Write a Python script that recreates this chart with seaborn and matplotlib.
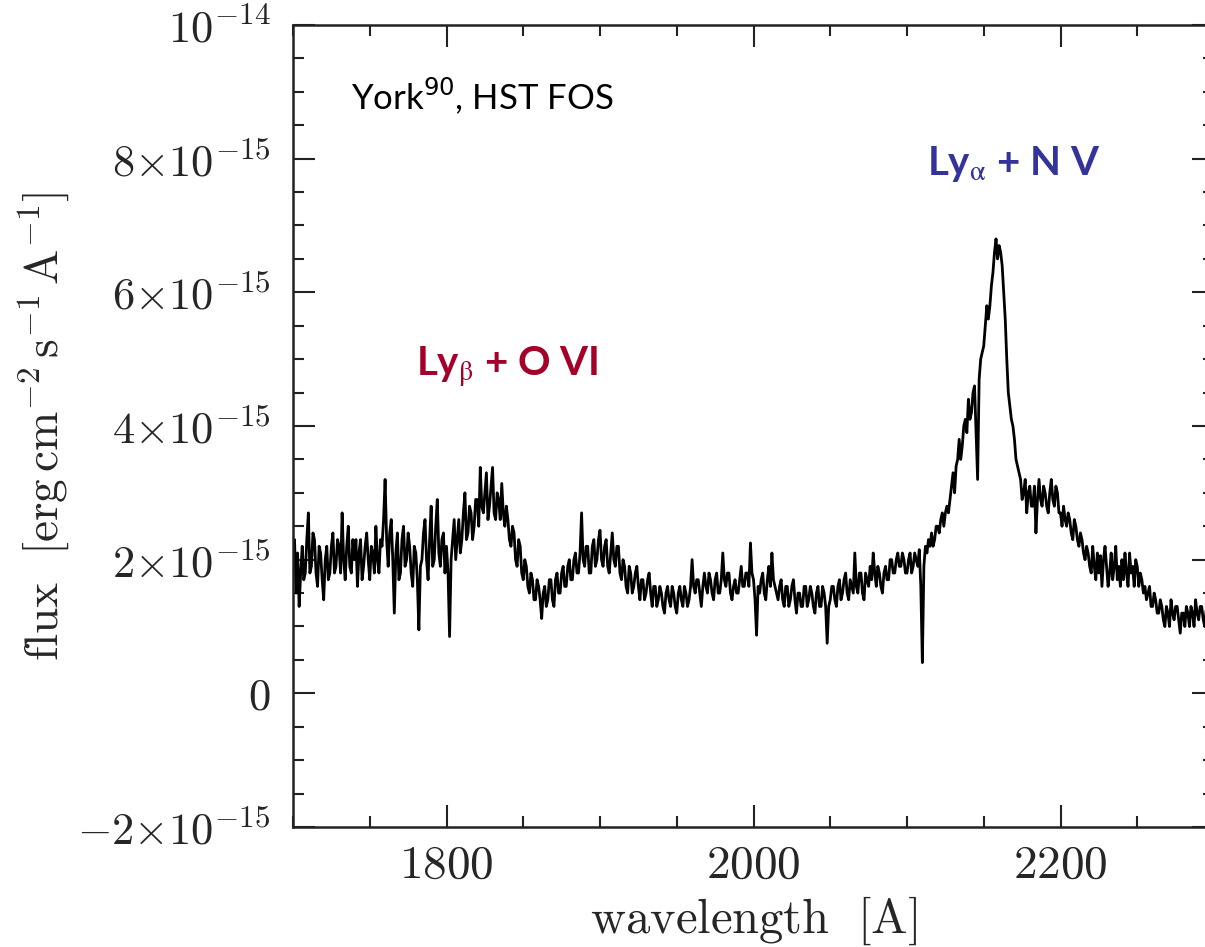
import numpy as np
import pandas as pd
import matplotlib
matplotlib.use('Agg')
import matplotlib.pyplot as plt
from matplotlib.ticker import MultipleLocator, FixedLocator, FixedFormatter
import seaborn as sns

# flux in units of 1e-15 erg cm^-2 s^-1 A^-1, one value per 1 A, rows of 10 A
flux_1700 = [1.9, 2.3, 1.5, 2.1, 1.3, 1.8, 2.2, 1.7, 1.8, 2.3,
             2.7, 1.8, 1.9, 2.4, 2.3, 1.8, 1.6, 2.2, 2.1, 1.7,
             1.4, 2.0, 2.2, 1.7, 1.8, 2.2, 2.4, 1.8, 1.9, 2.3,
             2.2, 1.8, 2.7, 2.0, 1.7, 2.2, 2.5, 1.9, 1.8, 2.3,
             2.0, 2.3, 1.6, 2.1, 2.3, 1.7, 1.9, 2.2, 2.4, 2.0,
             1.7, 2.2, 2.1, 1.8, 2.5, 2.0, 1.8, 2.3, 2.2, 2.6,
             3.2, 2.3, 1.9, 2.4, 2.6, 2.0, 1.2, 2.1, 2.4, 1.7,
             1.8, 2.3, 2.5, 1.9, 2.0, 2.4, 2.2, 1.8, 1.6, 2.2,
             2.1, 1.7, 0.95, 1.9, 2.0, 2.4, 2.6, 2.0, 1.7, 2.3,
             2.8, 1.9, 2.0, 2.5, 2.9, 2.1, 1.9, 2.3, 2.4, 1.8]
flux_1800 = [2.2, 1.8, 0.85, 2.0, 2.3, 2.6, 2.0, 2.3, 2.6, 2.1,
             2.3, 2.7, 3.0, 2.3, 2.4, 2.8, 2.7, 2.3, 2.5, 2.9,
             2.9, 2.5, 3.38, 2.8, 2.7, 3.0, 3.3, 2.6, 2.8, 3.1,
             3.38, 2.7, 2.6, 3.0, 2.9, 2.6, 3.14, 2.7, 2.5, 2.8,
             2.6, 2.3, 2.2, 2.5, 2.4, 2.0, 1.9, 2.3, 2.2, 1.8,
             1.7, 2.0, 1.9, 1.6, 1.5, 1.8, 1.7, 1.4, 1.4, 1.7,
             1.6, 1.4, 1.12, 1.5, 1.6, 1.3, 1.4, 1.7, 1.7, 1.4,
             1.3, 1.7, 1.8, 1.5, 1.5, 1.8, 1.9, 1.6, 1.6, 1.9,
             2.0, 1.7, 1.7, 2.0, 2.1, 1.8, 1.8, 2.1, 2.7, 2.0,
             1.9, 2.2, 2.2, 1.8, 1.8, 2.2, 2.3, 1.9, 2.0, 2.3]
flux_1900 = [2.44, 2.0, 1.9, 2.2, 2.3, 1.9, 1.8, 2.1, 2.4, 2.0,
             1.9, 2.2, 2.2, 1.8, 1.7, 2.0, 1.9, 1.6, 1.5, 1.9,
             1.8, 1.5, 1.6, 1.8, 1.9, 1.6, 1.4, 1.7, 1.7, 1.4,
             1.5, 1.7, 1.8, 1.5, 1.3, 1.6, 1.6, 1.3, 1.4, 1.6,
             1.5, 1.3, 1.2, 1.5, 1.6, 1.4, 1.3, 1.6, 1.5, 1.3,
             1.2, 1.5, 1.6, 1.4, 1.3, 1.6, 1.5, 1.3, 1.4, 1.6,
             2.0, 1.6, 1.5, 1.7, 1.7, 1.5, 1.3, 1.6, 1.8, 1.6,
             1.5, 1.8, 1.7, 1.5, 1.4, 1.7, 1.8, 1.5, 1.5, 1.7,
             2.1, 1.7, 1.6, 1.8, 1.8, 1.5, 1.4, 1.6, 1.7, 1.5,
             1.5, 1.7, 1.9, 1.6, 1.6, 1.8, 1.8, 1.6, 2.25, 1.8]
flux_2000 = [1.7, 1.4, 0.87, 1.6, 1.5, 1.7, 1.8, 1.5, 1.4, 1.7,
             1.9, 1.6, 2.1, 1.7, 1.6, 1.5, 1.4, 1.6, 1.7, 1.4,
             1.3, 1.6, 1.6, 1.3, 1.4, 1.6, 1.7, 1.4, 1.2, 1.5,
             1.5, 1.3, 1.3, 1.6, 1.6, 1.3, 1.4, 1.6, 1.5, 1.3,
             1.2, 1.5, 1.6, 1.3, 1.3, 1.6, 1.5, 1.3, 0.75, 1.3,
             1.4, 1.6, 1.6, 1.4, 1.3, 1.6, 1.7, 1.4, 1.5, 1.7,
             1.8, 1.5, 1.4, 1.7, 1.6, 1.5, 2.1, 1.6, 1.5, 1.8,
             1.8, 1.5, 1.4, 1.8, 1.7, 1.6, 1.9, 1.7, 2.1, 1.8,
             1.6, 1.9, 1.8, 1.6, 1.5, 1.8, 1.9, 1.7, 1.7, 2.0,
             2.0, 1.8, 1.8, 2.0, 2.1, 1.9, 1.9, 2.1, 2.0, 1.8]
flux_2100 = [1.8, 2.0, 2.1, 1.8, 1.9, 2.1, 2.0, 1.9, 2.15, 1.6,
             0.46, 1.9, 2.2, 2.1, 2.3, 2.2, 2.4, 2.2, 2.3, 2.5,
             2.5, 2.4, 2.6, 2.7, 2.5, 2.7, 2.8, 2.7, 2.9, 3.1,
             3.3, 3.0, 3.4, 3.5, 3.8, 3.5, 3.7, 4.0, 4.1, 3.9,
             4.4, 4.1, 4.2, 4.5, 4.6, 3.9, 3.2, 4.7, 5.0, 5.1,
             5.2, 5.5, 5.8, 5.6, 5.8, 6.1, 6.3, 6.6, 6.8, 6.5,
             6.7, 6.6, 6.4, 6.0, 5.6, 5.0, 4.5, 4.3, 4.1, 4.0,
             3.8, 3.5, 3.4, 3.3, 3.2, 2.9, 3.0, 3.2, 2.7, 3.0,
             3.1, 2.8, 2.8, 3.1, 2.4, 2.9, 3.2, 2.9, 2.8, 3.1,
             3.0, 2.8, 2.7, 3.0, 3.2, 2.9, 2.8, 3.1, 3.0, 2.7]
flux_2200 = [2.7, 2.5, 2.8, 2.6, 2.5, 2.7, 2.6, 2.4, 2.3, 2.6,
             2.5, 2.3, 2.2, 2.4, 2.3, 2.1, 2.0, 2.2, 2.1, 1.9,
             1.8, 2.2, 1.9, 1.7, 2.1, 1.8, 2.06, 1.6, 2.0, 2.2,
             1.9, 1.6, 1.8, 2.1, 1.7, 1.9, 2.2, 1.7, 1.9, 1.6,
             2.0, 1.7, 2.1, 1.8, 1.6, 2.1, 1.8, 1.9, 1.6, 2.0,
             1.9, 1.6, 1.8, 1.7, 1.5, 1.6, 1.4, 1.5, 1.6, 1.3,
             1.3, 1.5, 1.4, 1.2, 1.2, 1.4, 1.3, 1.1, 1.0, 1.3,
             1.2, 1.0, 1.4, 1.2, 1.1, 1.3, 1.3, 1.1, 0.9, 1.2,
             1.2, 1.0, 1.3, 1.2, 1.0, 1.3, 1.2, 1.0, 1.4, 1.2,
             1.1, 1.3, 1.3, 1.1, 1.0, 1.3, 1.2, 1.0, 1.3, 1.2,
             1.1]

y_tick_values = [-2e-15, 0, 2e-15, 4e-15, 6e-15, 8e-15, 1e-14]
y_tick_labels = [r'$-2{\times}10^{-15}$', r'$0$', r'$2{\times}10^{-15}$',
                 r'$4{\times}10^{-15}$', r'$6{\times}10^{-15}$',
                 r'$8{\times}10^{-15}$', r'$10^{-14}$']
x_tick_values = [1800, 2000, 2200]
x_tick_labels = [r'$1800$', r'$2000$', r'$2200$']

flux = np.array(flux_1700 + flux_1800 + flux_1900 + flux_2000 + flux_2100 + flux_2200) * 1e-15
wave = 1700 + np.arange(len(flux))
df = pd.DataFrame({'wavelength': wave, 'flux': flux})

sns.set_style('ticks')
plt.rcParams['mathtext.fontset'] = 'cm'
plt.rcParams['font.family'] = ['Lato', 'DejaVu Sans']

fig = plt.figure(figsize=(12.05, 9.47), dpi=100)
ax = fig.add_axes([293 / 1205, 1 - 827 / 947, 921 / 1205, 802 / 947])

sns.lineplot(data=df, x='wavelength', y='flux', color='black', linewidth=2.0,
             sort=False, ax=ax)

ax.set_xlim(1700, 2300)
ax.set_ylim(-2e-15, 1e-14)

ax.xaxis.set_major_locator(FixedLocator(x_tick_values))
ax.xaxis.set_major_formatter(FixedFormatter(x_tick_labels))
ax.xaxis.set_minor_locator(MultipleLocator(50))
ax.yaxis.set_major_locator(FixedLocator(y_tick_values))
ax.yaxis.set_major_formatter(FixedFormatter(y_tick_labels))
ax.yaxis.set_minor_locator(MultipleLocator(0.5e-15))

ax.tick_params(which='both', direction='in', bottom=True, top=True, left=True, right=True,
               width=1.5, color='#222222')
ax.tick_params(which='major', length=16)
ax.tick_params(which='minor', length=8)
ax.tick_params(axis='x', labelsize=34, pad=12)
ax.tick_params(axis='y', labelsize=32, pad=16)
for s in ax.spines.values():
    s.set_visible(True)
    s.set_linewidth(1.8)
    s.set_color('#222222')

ax.set_xlabel(r'$\mathrm{wavelength\ \ [A]}$', fontsize=35, labelpad=6, math_fontfamily='cm')
ax.set_ylabel(r'$\mathrm{flux\ \ [erg\,cm^{-2}\,s^{-1}\,A^{-1}]}$', fontsize=34, labelpad=4,
              math_fontfamily='cm')

ax.text(1738, 8.95e-15, r'York$^{90}$, HST FOS', fontsize=25, va='center', ha='left',
        color='black', math_fontfamily='dejavusans')
ax.text(1780, 4.75e-15, r'Ly$_{\mathrm{\beta}}$ + O VI', fontsize=29, fontweight='bold',
        color='#A3002A', va='baseline', ha='left', math_fontfamily='stix')
ax.text(2113, 7.75e-15, r'Ly$_{\mathrm{\alpha}}$ + N V', fontsize=29, fontweight='bold',
        color='#33339B', va='baseline', ha='left', math_fontfamily='stix')

fig.savefig('out.png', dpi=100)
